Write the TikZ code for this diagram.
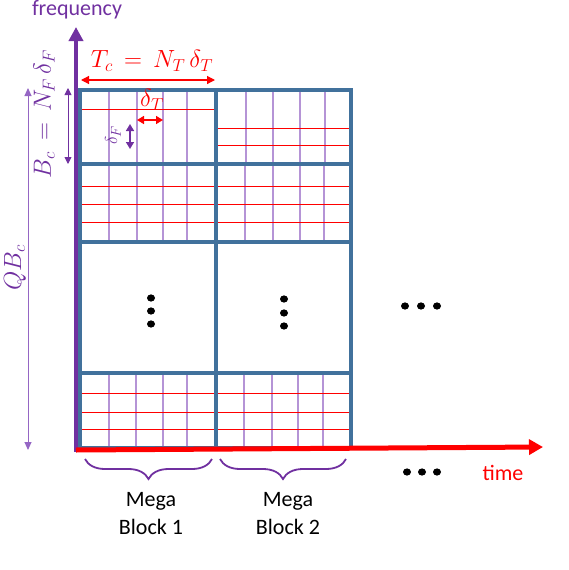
\documentclass[tikz,border=0pt]{standalone}
\usepackage{fontspec}
\setmainfont{Carlito}
\usetikzlibrary{arrows.meta,decorations.pathreplacing}
\definecolor{pur}{HTML}{7030A0}
\definecolor{lpur}{HTML}{9566C4}
\definecolor{frame}{HTML}{41719C}
\definecolor{rd}{HTML}{FF0000}
\tikzset{
  frameline/.style={draw=frame,line width=4pt},
  vline/.style={draw=lpur,line width=1.3pt,opacity=0.7},
  hline/.style={draw=rd,line width=1pt},
  lbl/.style={inner sep=0pt,font=\fontsize{22}{26}\selectfont},
  mathlbl/.style={inner sep=0pt},
  mbrace/.style={pur,line width=1.8pt,decorate,decoration={brace,mirror,amplitude=20pt,aspect=0.5}},
}
\begin{document}
\begin{tikzpicture}[x=1pt,y=-1pt]
\useasboundingbox (0,0) rectangle (568,570);
% grid fine lines
% row 1 block 1
\foreach \x in {109,137,163,187} \draw[vline] (\x,91) -- (\x,163);
\draw[hline] (81,109) -- (214,109);
% row 1 block 2
\foreach \x in {246,273,300,325} \draw[vline] (\x,91) -- (\x,163);
\foreach \y in {128,145} \draw[hline] (218,\y) -- (349,\y);
% row 2
\foreach \x in {109,137,163,187,245,273,300,324} \draw[vline] (\x,166) -- (\x,241);
\foreach \y in {186,204,222} {\draw[hline] (81,\y) -- (214,\y); \draw[hline] (218,\y) -- (349,\y);}
% row 4
\foreach \x in {109,136,163,187,244,272,298,323} \draw[vline] (\x,375) -- (\x,447);
\foreach \y in {393,412,429} {\draw[hline] (81,\y) -- (214,\y); \draw[hline] (218,\y) -- (349,\y);}
% frame
\draw[frameline] (79.5,89.5) rectangle (350.5,447.5);
\draw[frameline] (216,89.5) -- (216,447.5);
\foreach \y in {164,242,373} \draw[frameline] (79.5,\y) -- (350.5,\y);
% dots
\foreach \y in {298,311,324} \fill (151,\y) ellipse (4 and 3.6);
\foreach \y in {299,313,326} \fill (284,\y) ellipse (4 and 3.6);
\foreach \x in {405,421,437} \fill (\x,306) ellipse (4 and 3.6);
\foreach \x in {407,422,437} \fill (\x,472) ellipse (4 and 3.6);
% axes
\coordinate (fo) at (76,452);
\coordinate (ft) at (76,27);
\coordinate (to) at (76,450);
\coordinate (tt) at (543,447);
\draw[pur,line width=4pt,-{Triangle[length=14pt,width=14pt]}] (fo) -- (ft);
\draw[rd,line width=5pt,-{Triangle[length=14pt,width=15pt]}] (to) -- (tt);
\node[lbl,text=pur] (freq) at (77,10) {frequency};
\node[lbl,text=rd] (time) at (503,473) {time};
% Tc arrow
\coordinate (tca) at (81,80);
\coordinate (tcb) at (215,80);
\draw[rd,line width=1.2pt,{Triangle[length=8pt,width=8pt]}-{Triangle[length=8pt,width=8pt]}] (tca) -- (tcb);
\node[mathlbl,text=rd,font=\fontsize{24}{28}\selectfont] (tc) at (152,61) {$T_c\,=\,N_T\,\delta_T$};
% delta T
\coordinate (dta) at (137,120);
\coordinate (dtb) at (163,120);
\draw[rd,line width=1.5pt,{Triangle[length=7pt,width=8pt]}-{Triangle[length=7pt,width=8pt]}] (dta) -- (dtb);
\node[mathlbl,text=rd,font=\fontsize{23}{26}\selectfont] (dt) at (152,100) {$\delta_T$};
% delta F
\coordinate (dfa) at (130,124);
\coordinate (dfb) at (130,149);
\draw[pur,line width=1.5pt,{Triangle[length=7pt,width=8pt]}-{Triangle[length=7pt,width=8pt]}] (dfa) -- (dfb);
\node[mathlbl,text=pur,rotate=90,font=\fontsize{19}{22}\selectfont] (df) at (113,135) {$\delta_F$};
% Bc
\coordinate (bca) at (68,88);
\coordinate (bcb) at (68,164);
\draw[pur,line width=0.9pt,{Triangle[length=7pt,width=7pt]}-{Triangle[length=7pt,width=7pt]}] (bca) -- (bcb);
\node[mathlbl,text=pur,rotate=90,font=\fontsize{24}{28}\selectfont] (bc) at (44,114) {$B_c\,=\,N_F\,\delta_F$};
% QBc
\coordinate (qa) at (28,88);
\coordinate (qb) at (28,450);
\draw[lpur,line width=1pt,{Triangle[length=8pt,width=7pt]}-{Triangle[length=8pt,width=7pt]}] (qa) -- (qb);
\node[mathlbl,text=pur,rotate=90,font=\fontsize{24}{28}\selectfont] (qbc) at (15,268) {$QB_c$};
% braces
\coordinate (b1a) at (85,459);
\coordinate (b1b) at (212,459);
\coordinate (b2a) at (220,459);
\coordinate (b2b) at (346,459);
\draw[mbrace] (b1a) -- (b1b);
\draw[mbrace] (b2a) -- (b2b);
\node[lbl,align=center,text=black,font=\fontsize{22}{28}\selectfont] (mb1) at (151,514) {Mega\\Block 1};
\node[lbl,align=center,text=black,font=\fontsize{22}{28}\selectfont] (mb2) at (288,514) {Mega\\Block 2};
\end{tikzpicture}
\end{document}
